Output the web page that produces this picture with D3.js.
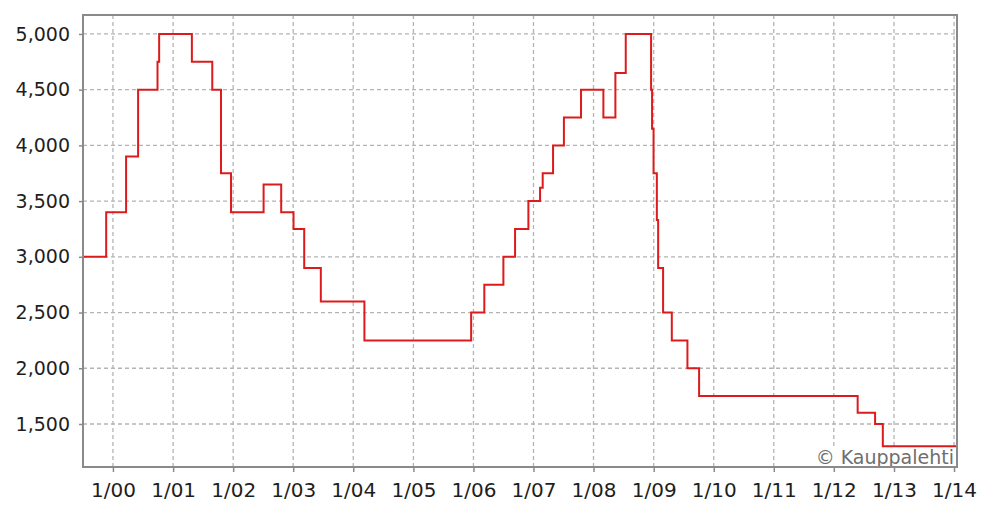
<!DOCTYPE html>
<html>
<head>
<meta charset="utf-8">
<script src="https://cdn.jsdelivr.net/npm/d3@7"></script>
<style>
  body { margin: 0; background: #fff; }
  svg { display: block; }
</style>
</head>
<body>
<div id="chart"></div>
<script>
// step changes: date the level starts, value from that date on
const stepDates = [
  '1999-07-03', '1999-11-21', '2000-03-21', '2000-06-02', '2000-09-28', '2000-10-08',
  '2001-04-25', '2001-08-27', '2001-10-19', '2001-12-19', '2002-07-05', '2002-10-20',
  '2003-01-03', '2003-03-09', '2003-06-18', '2004-03-09', '2005-12-18', '2006-03-08',
  '2006-07-02', '2006-09-11', '2006-12-01', '2007-02-10', '2007-02-26', '2007-04-30',
  '2007-07-05', '2007-10-17', '2008-03-01', '2008-05-13', '2008-07-15', '2008-12-16',
  '2008-12-22', '2008-12-31', '2009-01-20', '2009-01-28', '2009-02-27', '2009-04-21',
  '2009-07-25', '2009-10-04', '2012-05-25', '2012-09-08', '2012-10-25', '2014-01-19'
]
const stepValues = [
  3000, 3400, 3900, 4500, 4750, 5000,
  4750, 4500, 3750, 3400, 3650, 3400,
  3250, 2900, 2600, 2250, 2500, 2750,
  3000, 3250, 3500, 3620, 3750, 4000,
  4250, 4500, 4250, 4650, 5000, 4500,
  4150, 3750, 3330, 2900, 2500, 2250,
  2000, 1750, 1600, 1500, 1300, 1300
]
const yTickValues = [1500, 2000, 2500, 3000, 3500, 4000, 4500, 5000]
const xTickYears = [2000, 2001, 2002, 2003, 2004, 2005, 2006, 2007, 2008, 2009, 2010, 2011, 2012, 2013, 2014]
const sourceLabel = '© Kauppalehti'

const svgSize = { width: 985, height: 509 }
const plot = { left: 83, right: 957, top: 15, bottom: 467 }

const parse = d3.timeParse('%Y-%m-%d')
const data = stepDates.map((d, i) => ({ date: parse(d), value: stepValues[i] }))
const xTicks = xTickYears.map(y => new Date(y, 0, 1))

const svg = d3.select('#chart')
  .append('svg')
  .attr('width', svgSize.width)
  .attr('height', svgSize.height)

const xScale = d3.scaleTime()
  .domain([parse('1999-07-03'), parse('2014-01-19')])
  .range([plot.left, plot.right])

const yScale = d3.scaleLinear()
  .domain([1114, 5170])
  .range([plot.bottom, plot.top])

// grid
svg.append('g')
  .selectAll('line')
  .data(yTickValues)
  .enter().append('line')
  .attr('x1', plot.left)
  .attr('x2', plot.right)
  .attr('y1', d => yScale(d))
  .attr('y2', d => yScale(d))
  .attr('stroke', '#b4b4b4')
  .attr('stroke-width', 1.3)
  .attr('stroke-dasharray', '4 3')

svg.append('g')
  .selectAll('line')
  .data(xTicks)
  .enter().append('line')
  .attr('x1', d => xScale(d))
  .attr('x2', d => xScale(d))
  .attr('y1', plot.top)
  .attr('y2', plot.bottom)
  .attr('stroke', '#b4b4b4')
  .attr('stroke-width', 1.3)
  .attr('stroke-dasharray', '4 3')

// axes
svg.append('g')
  .attr('class', 'x-axis')
  .attr('transform', `translate(0,${plot.bottom})`)
  .call(d3.axisBottom(xScale)
    .tickValues(xTicks)
    .tickFormat(d3.timeFormat('%-m/%y'))
    .tickSize(5)
    .tickPadding(11))

svg.append('g')
  .attr('class', 'y-axis')
  .attr('transform', `translate(${plot.left},0)`)
  .call(d3.axisLeft(yScale)
    .tickValues(yTickValues)
    .tickFormat(d3.format(','))
    .tickSize(4)
    .tickPadding(9))

svg.selectAll('.domain').remove()
svg.selectAll('.tick line').attr('stroke', '#8a8a8a').attr('stroke-width', 1.5)
svg.selectAll('.tick text')
  .attr('fill', '#1e1e1e')
  .attr('font-family', 'DejaVu Sans, Verdana, sans-serif')
  .attr('font-size', '19px')
svg.selectAll('.x-axis .tick text').attr('font-size', '20px')

// source label
svg.append('rect')
  .attr('x', 806)
  .attr('y', 449)
  .attr('width', 149)
  .attr('height', 17)
  .attr('fill', '#fff')

svg.append('text')
  .attr('x', 954)
  .attr('y', 464)
  .attr('text-anchor', 'end')
  .attr('font-family', 'DejaVu Sans, Verdana, sans-serif')
  .attr('font-size', '19px')
  .attr('fill', '#6e6e6e')
  .text(sourceLabel)

// step line
const line = d3.line()
  .x(d => xScale(d.date))
  .y(d => yScale(d.value))
  .curve(d3.curveStepAfter)

svg.append('path')
  .datum(data)
  .attr('fill', 'none')
  .attr('stroke', '#dc1c1c')
  .attr('stroke-width', 2)
  .attr('d', line)

// frame
svg.append('rect')
  .attr('x', plot.left)
  .attr('y', plot.top)
  .attr('width', plot.right - plot.left)
  .attr('height', plot.bottom - plot.top)
  .attr('fill', 'none')
  .attr('stroke', '#8a8a8a')
  .attr('stroke-width', 2)
</script>
</body>
</html>
